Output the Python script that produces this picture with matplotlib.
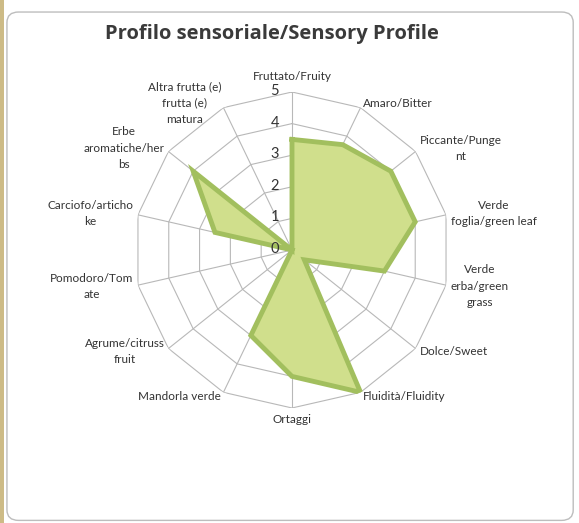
import numpy as np
import matplotlib
matplotlib.use('Agg')
import matplotlib.pyplot as plt
from matplotlib.patches import FancyBboxPatch, Rectangle
import matplotlib.transforms as mtransforms

# data
categories = ['Fruttato/Fruity', 'Amaro/Bitter', 'Piccante/Punge\nnt',
              'Verde\nfoglia/green leaf', 'Verde\nerba/green\ngrass', 'Dolce/Sweet',
              'Fluidità/Fluidity', 'Ortaggi', 'Mandorla verde',
              'Agrume/citruss\nfruit', 'Pomodoro/Tom\nate', 'Carciofo/articho\nke',
              'Erbe\naromatiche/her\nbs', 'Altra frutta (e)\nfrutta (e)\nmatura']
values = [3.5, 3.7, 4.0, 4.0, 3.0, 0.5, 5.0, 4.0, 3.0, 0.0, 0.0, 2.5, 4.0, 0.0]
scale_ticks = [0, 1, 2, 3, 4, 5]

plt.rcParams['font.family'] = ['Lato', 'DejaVu Sans']

fig = plt.figure(figsize=(5.79, 5.23), dpi=100)
fig.patch.set_facecolor('white')

# chart frame
frame = FancyBboxPatch((0.012, 0.005), 0.978, 0.972, boxstyle='round,pad=0,rounding_size=0.02',
                       transform=fig.transFigure, facecolor='white', edgecolor='#bdbdbd',
                       lw=1.0, zorder=-10)
fig.patches.append(frame)
fig.patches.append(Rectangle((0, 0), 0.007, 1, transform=fig.transFigure,
                             facecolor='#cdbb86', edgecolor='none', zorder=-10))

fig.text(0.47, 0.935, 'Profilo sensoriale/Sensory Profile', ha='center', va='center',
         fontsize=14.5, fontweight='bold', color='#3a3a3a', family=['Open Sans', 'DejaVu Sans'])

ax = fig.add_axes([0.2314, 0.2199, 0.5458, 0.6042], polar=True)
ax.set_theta_zero_location('N')
ax.set_theta_direction(-1)
ax.set_ylim(0, 5)
ax.grid(False)
ax.spines['polar'].set_visible(False)
ax.set_xticks([])
ax.set_yticks([])
ax.patch.set_alpha(0)

n = len(categories)
angles = np.arange(n) * 2 * np.pi / n
closed = np.append(angles, angles[0])

# polygon grid
for t in scale_ticks[1:]:
    ax.plot(closed, [t] * (n + 1), color='#b8b8b8', lw=0.8, zorder=1)
for a in angles:
    ax.plot([a, a], [0, 5], color='#b8b8b8', lw=0.8, zorder=1)

vals = np.append(values, values[0])
ax.fill(closed, vals, color='#d0df8c', zorder=2)
ax.plot(closed, vals, color='#a2bf5e', lw=3.5, zorder=3, solid_joinstyle='miter')

# scale labels
off = mtransforms.offset_copy(ax.transData, fig=fig, x=-13, y=1, units='dots')
for t in scale_ticks:
    ax.text(0, t, str(t), transform=off, ha='right', va='center', fontsize=10.5, color='#333333')

# category labels
for a, lab in zip(angles, categories):
    s, c = np.sin(a), np.cos(a)
    if abs(s) < 0.1:
        ha = 'center'
    elif s > 0:
        ha = 'left'
    else:
        ha = 'right'
    if c > 0.95:
        va, gap = 'bottom', 10
    elif c < -0.95:
        va, gap = 'top', 6
    else:
        va, gap = 'center', 5
    tr = mtransforms.offset_copy(ax.transData, fig=fig, x=gap * s, y=gap * c, units='dots')
    ax.text(a, 5, lab, transform=tr, ha=ha, va=va, multialignment='center',
            fontsize=8.5, color='#333333', linespacing=1.6)

plt.savefig('out.png', dpi=100)
